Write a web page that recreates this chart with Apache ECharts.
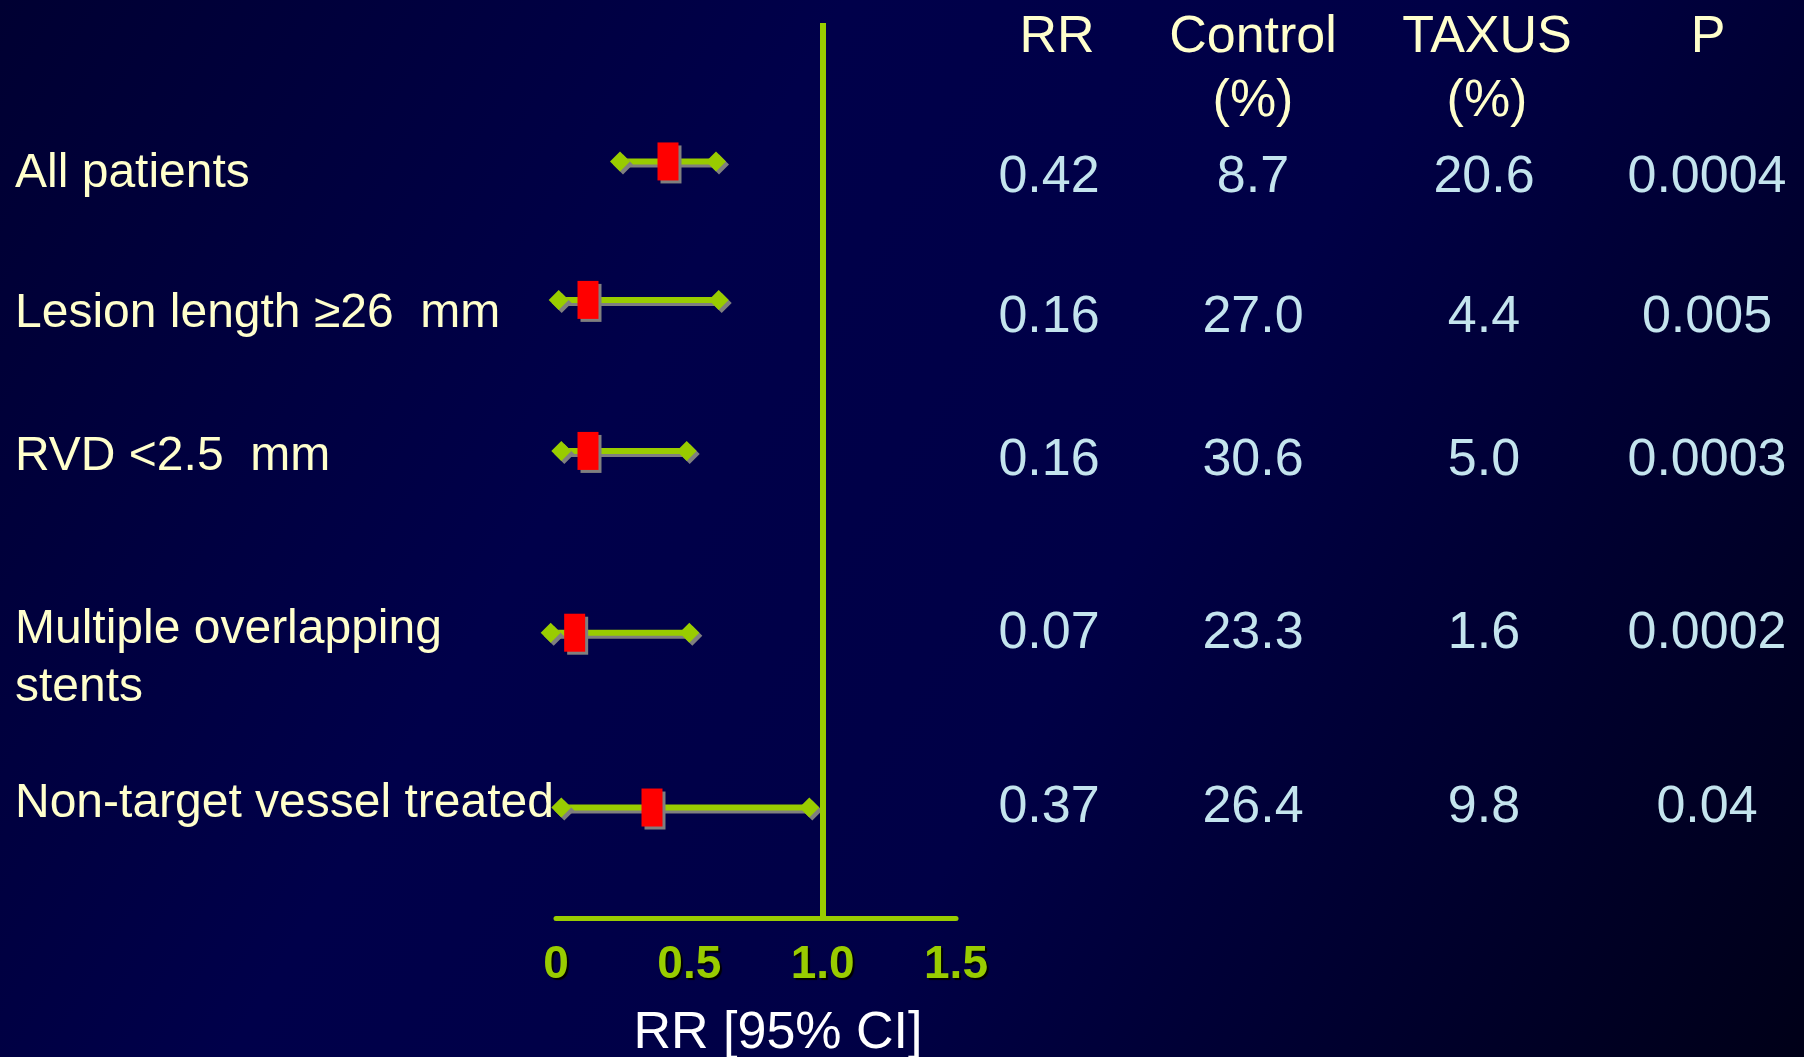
<!DOCTYPE html>
<html>
<head>
<meta charset="utf-8">
<style>
  html, body { margin: 0; padding: 0; }
  #chart { width: 1804px; height: 1057px; }
</style>
<script src="https://cdn.jsdelivr.net/npm/echarts@6/dist/echarts.min.js"></script>
</head>
<body>
<div id="chart"></div>
<script>
// subgroup rows
const subgroups = ['All patients', 'Lesion length \u226526  mm', 'RVD <2.5  mm', 'Multiple overlapping\nstents', 'Non-target vessel treated']
// plotted point estimate and 95% CI ends, as drawn
const rrEst = [0.42, 0.12, 0.12, 0.07, 0.36]
const ciLow = [0.24, 0.01, 0.02, -0.02, 0.02]
const ciHigh = [0.60, 0.61, 0.49, 0.50, 0.95]
// table columns
const headers = ['RR', 'Control\n(%)', 'TAXUS\n(%)', 'P']
const rrText = ['0.42', '0.16', '0.16', '0.07', '0.37']
const controlPct = ['8.7', '27.0', '30.6', '23.3', '26.4']
const taxusPct = ['20.6', '4.4', '5.0', '1.6', '9.8']
const pValues = ['0.0004', '0.005', '0.0003', '0.0002', '0.04']
// x axis ticks
const xTicks = [0, 0.5, 1.0, 1.5]
const xTickLabels = ['0', '0.5', '1.0', '1.5']

// layout: row slots on a hidden y axis, column centres in px
const ciRow = [0.99, 1.98, 3.06, 4.36, 5.61]
const textRow = [1.08, 2.08, 3.10, 4.34, 5.58]
const colX = [1049, 1253, 1484, 1707]
const headerX = [1057, 1253, 1487, 1708]

const green = '#99cc00'
const shade = '#7f7f7f'
const font = '"Liberation Sans", Arial, sans-serif'

const chart = echarts.init(document.getElementById('chart'))

function diamond(cx, cy, r) {
  return [[cx - r, cy], [cx, cy - r], [cx + r, cy], [cx, cy + r]]
}

function renderRow(params, api) {
  const i = api.value(5)
  const y = api.coord([0, api.value(3)])[1]
  const ty = api.coord([0, api.value(4)])[1] + 4
  const xe = api.coord([api.value(0), 0])[0]
  const xl = api.coord([api.value(1), 0])[0]
  const xh = api.coord([api.value(2), 0])[0]
  const s = 3
  const kids = [
    { type: 'line', shape: { x1: xl, y1: y + s, x2: xh, y2: y + s }, style: { stroke: shade, lineWidth: 6 } },
    { type: 'line', shape: { x1: xl, y1: y, x2: xh, y2: y }, style: { stroke: green, lineWidth: 6 } },
    { type: 'polygon', shape: { points: diamond(xl + s, y + s, 10) }, style: { fill: shade } },
    { type: 'polygon', shape: { points: diamond(xh + s, y + s, 10) }, style: { fill: shade } },
    { type: 'polygon', shape: { points: diamond(xl, y, 10) }, style: { fill: green } },
    { type: 'polygon', shape: { points: diamond(xh, y, 10) }, style: { fill: green } },
    { type: 'rect', shape: { x: xe - 10.5 + s, y: y - 19 + s, width: 21, height: 38 }, style: { fill: shade } },
    { type: 'rect', shape: { x: xe - 10.5, y: y - 19, width: 21, height: 38 }, style: { fill: '#ff0000' } },
    {
      type: 'text', x: 15, y: ty - 4 - 29,
      style: { text: subgroups[i], fill: '#ffffcc', fontSize: 48, lineHeight: 58, fontFamily: font, align: 'left', verticalAlign: 'top' }
    }
  ]
  const cells = [rrText[i], controlPct[i], taxusPct[i], pValues[i]]
  cells.forEach((t, c) => {
    kids.push({
      type: 'text', x: colX[c], y: ty,
      style: { text: t, fill: '#c4e4ee', fontSize: 52, fontFamily: font, align: 'center', verticalAlign: 'middle' }
    })
  })
  return { type: 'group', children: kids }
}

chart.setOption({
  backgroundColor: new echarts.graphic.LinearGradient(0, 0, 1, 1, [
    { offset: 0, color: '#000032' },
    { offset: 0.35, color: '#00004a' },
    { offset: 0.6, color: '#000046' },
    { offset: 1, color: '#000018' }
  ]),
  animation: false,
  grid: { left: 556, right: 848, top: 23, bottom: 139, outerBoundsMode: 'none', containLabel: false },
  xAxis: {
    type: 'value',
    position: 'bottom',
    min: 0,
    max: 1.5,
    interval: 0.5,
    axisLine: { onZero: false, lineStyle: { color: green, width: 5 } },
    axisTick: { show: false },
    splitLine: { show: false },
    axisLabel: {
      margin: 24,
      lineHeight: 46,
      color: green,
      fontSize: 46,
      fontWeight: 'bold',
      fontFamily: font,
      textShadowColor: '#000',
      textShadowOffsetX: 2,
      textShadowOffsetY: 2,
      textShadowBlur: 1,
      formatter: v => xTickLabels[xTicks.indexOf(v)]
    },
    name: 'RR [95% CI]',
    nameLocation: 'middle',
    nameGap: 90,
    nameTextStyle: { color: '#ffffff', fontSize: 52, lineHeight: 52, fontFamily: font, padding: [0, 0, 0, 44] }
  },
  yAxis: { type: 'value', inverse: true, min: 0, max: 6.4, show: false },
  graphic: headers.map((h, c) => ({
    type: 'text', x: headerX[c], y: 6,
    style: { text: h, fill: '#ffffcc', fontSize: 52, lineHeight: 64, fontFamily: font, align: 'center', verticalAlign: 'top' }
  })),
  series: [{
    type: 'custom',
    clip: false,
    renderItem: renderRow,
    encode: { x: [0, 1, 2], y: 3 },
    data: subgroups.map((_, i) => [rrEst[i], ciLow[i], ciHigh[i], ciRow[i], textRow[i], i]),
    markLine: {
      silent: true,
      symbol: 'none',
      label: { show: false },
      lineStyle: { color: green, width: 6, type: 'solid' },
      data: [{ xAxis: 1 }]
    }
  }]
})
</script>
</body>
</html>
